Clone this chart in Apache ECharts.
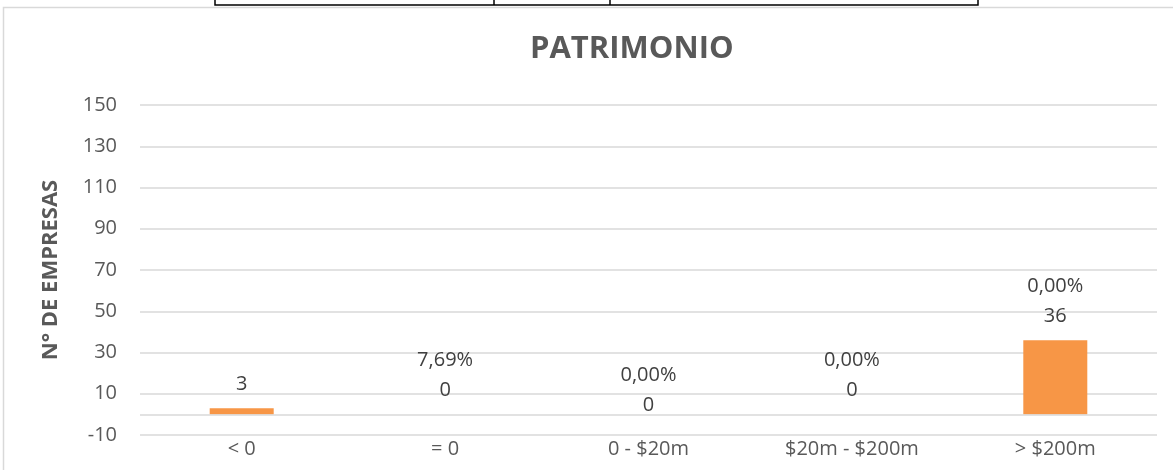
<!DOCTYPE html>
<html>
<head>
<meta charset="utf-8">
<script src="https://cdn.jsdelivr.net/npm/echarts@6/dist/echarts.min.js"></script>
<style>
  html, body { margin: 0; padding: 0; background: #fff; }
  #chart { width: 1173px; height: 470px; }
</style>
</head>
<body>
<div id="chart"></div>
<script>
// datos
const categorias = ['< 0', '= 0', '0 - $20m', '$20m - $200m', '> $200m']
const empresas = [3, 0, 0, 0, 36]
const porcentajes = ['', '7,69%', '0,00%', '0,00%', '0,00%']

const gris = '#595959'
const fuente = '"Open Sans", "Noto Sans", sans-serif'

const myChart = echarts.init(document.getElementById('chart'))

const datos = empresas.map((v, i) => {
  const item = { value: v }
  // la etiqueta de "0 - $20m" esta mas abajo en el original
  if (i === 2) item.label = { offset: [0, 15] }
  return item
})

const option = {
  animation: false,
  backgroundColor: '#fff',
  title: {
    text: 'PATRIMONIO',
    left: 525,
    top: 29,
    textStyle: { fontFamily: fuente, fontSize: 31, fontWeight: 'bold', color: gris }
  },
  graphic: [
    // marco del grafico
    { type: 'rect', shape: { x: 3.5, y: 7.5, width: 1200, height: 500 },
      style: { fill: 'none', stroke: '#d9d9d9', lineWidth: 1.5 }, silent: true },
    // restos de la tabla de arriba
    { type: 'polyline', shape: { points: [[215, -2], [215, 5], [978, 5], [978, -2]] },
      style: { fill: 'none', stroke: '#000', lineWidth: 1.5 }, silent: true },
    { type: 'line', shape: { x1: 494, y1: -2, x2: 494, y2: 5 },
      style: { stroke: '#000', lineWidth: 1.5 }, silent: true },
    { type: 'line', shape: { x1: 610, y1: -2, x2: 610, y2: 5 },
      style: { stroke: '#000', lineWidth: 1.5 }, silent: true }
  ],
  grid: { left: 140, right: 16, top: 105, bottom: 35 },
  xAxis: {
    type: 'category',
    data: categorias,
    axisLine: { show: false },
    axisTick: { show: false },
    axisLabel: { fontFamily: fuente, fontSize: 20, color: gris, margin: 4 }
  },
  yAxis: {
    type: 'value',
    min: -10,
    max: 150,
    interval: 20,
    name: 'N° DE EMPRESAS',
    nameLocation: 'middle',
    nameGap: 78,
    nameTextStyle: { fontFamily: fuente, fontSize: 22, fontWeight: 'bold', color: gris },
    axisLine: { show: false },
    axisTick: { show: false },
    axisLabel: { fontFamily: fuente, fontSize: 20, color: gris, margin: 23 },
    splitLine: { lineStyle: { color: '#d9d9d9', width: 1.5 } }
  },
  series: [
    {
      type: 'bar',
      data: datos,
      barWidth: 64,
      itemStyle: { color: '#F79646' },
      label: {
        show: true,
        position: 'top',
        distance: 9,
        formatter: p => {
          const pct = porcentajes[p.dataIndex]
          return pct ? '{a|' + pct + '}\n{a|' + p.value + '}' : '{a|' + p.value + '}'
        },
        rich: {
          a: { fontFamily: fuente, fontSize: 20, color: '#404040', lineHeight: 30 }
        }
      },
      markLine: {
        silent: true,
        symbol: 'none',
        label: { show: false },
        lineStyle: { color: '#d9d9d9', type: 'solid', width: 1.5 },
        data: [{ yAxis: 0 }]
      }
    }
  ]
}

myChart.setOption(option)
</script>
</body>
</html>
